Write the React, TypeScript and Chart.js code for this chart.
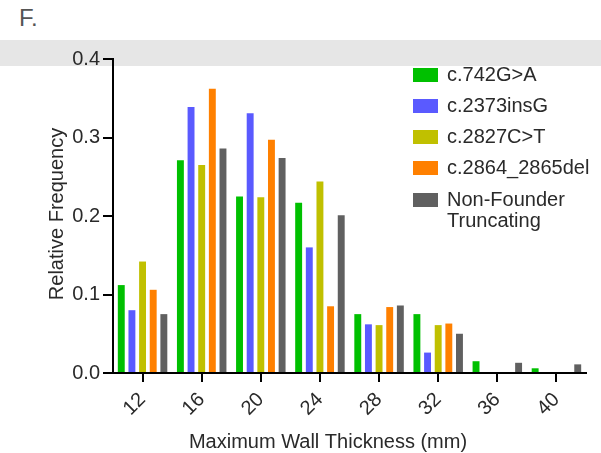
import React, { useEffect, useRef } from "react";
import { Chart, registerables } from "chart.js";

Chart.register(...registerables);

const categories = ["12", "16", "20", "24", "28", "32", "36", "40"];
const seriesLabels = ["c.742G>A", "c.2373insG", "c.2827C>T", "c.2864_2865del", "Non-Founder Truncating"];
const seriesColors = ["#00c000", "#5a5aff", "#c0c000", "#ff8000", "#606060"];
const v742 = [0.112, 0.271, 0.225, 0.217, 0.075, 0.075, 0.015, 0.006];
const vIns = [0.080, 0.339, 0.331, 0.160, 0.062, 0.026, 0, 0];
const v2827 = [0.142, 0.265, 0.224, 0.244, 0.061, 0.061, 0, 0];
const vDel = [0.106, 0.362, 0.297, 0.085, 0.084, 0.063, 0, 0];
const vNF = [0.075, 0.286, 0.274, 0.201, 0.086, 0.050, 0.013, 0.011];
const seriesValues = [v742, vIns, v2827, vDel, vNF];
const yTicks = [0, 0.1, 0.2, 0.3, 0.4];

const FONT = '"Liberation Sans", Arial, sans-serif';
const TEXT = "#2a2a2a";

const overlayPlugin = {
  id: "overlay",
  afterDraw(chart: any) {
    const ctx = chart.ctx;
    ctx.save();
    // legend
    ctx.font = `20px ${FONT}`;
    ctx.textBaseline = "middle";
    ctx.textAlign = "left";
    const rowY = [75, 106, 137, 168, 200];
    chart.data.datasets.forEach((ds: any, i: number) => {
      const y = rowY[i];
      ctx.fillStyle = ds.backgroundColor;
      ctx.fillRect(413, y - 7, 25, 14);
      ctx.fillStyle = TEXT;
      const label: string = ds.label;
      if (label === "Non-Founder Truncating") {
        ctx.fillText("Non-Founder", 447, y);
        ctx.fillText("Truncating", 447, y + 21);
      } else {
        ctx.fillText(label, 447, y);
      }
    });
    // axis titles
    ctx.font = `20px ${FONT}`;
    ctx.fillStyle = TEXT;
    ctx.textAlign = "center";
    ctx.textBaseline = "alphabetic";
    ctx.fillText("Maximum Wall Thickness (mm)", 328, 448);
    ctx.translate(63, 214);
    ctx.rotate(-Math.PI / 2);
    ctx.fillText("Relative Frequency", 0, 0);
    ctx.restore();
  },
};

export default function App() {
  const ref = useRef<HTMLCanvasElement | null>(null);
  useEffect(() => {
    if (!ref.current) return;
    const chart = new Chart(ref.current, {
      type: "bar",
      data: {
        labels: categories,
        datasets: seriesLabels.map((label, i) => ({
          label,
          data: seriesValues[i],
          backgroundColor: seriesColors[i],
          borderWidth: 0,
          categoryPercentage: 0.9,
          barPercentage: 0.65,
        })),
      },
      options: {
        responsive: false,
        animation: false,
        layout: { padding: { top: 59, right: 15, left: 0, bottom: 0 } },
        plugins: { legend: { display: false }, tooltip: { enabled: false } },
        scales: {
          x: {
            offset: true,
            grid: {
              offset: false,
              drawOnChartArea: false,
              drawTicks: true,
              tickLength: 9,
              color: "#000",
              lineWidth: 2,
            },
            border: { color: "#000", width: 2 },
            ticks: {
              color: TEXT,
              font: { family: FONT, size: 20 },
              minRotation: 45,
              maxRotation: 45,
              padding: 6,
            },
            afterFit(scale: any) {
              scale.height = 80;
            },
          },
          y: {
            min: 0,
            max: 0.4,
            afterBuildTicks(scale: any) {
              scale.ticks = yTicks.map((v) => ({ value: v }));
            },
            grid: {
              drawOnChartArea: false,
              drawTicks: true,
              tickLength: 10,
              color: "#000",
              lineWidth: 2,
            },
            border: { color: "#000", width: 2 },
            ticks: {
              color: TEXT,
              font: { family: FONT, size: 20 },
              padding: 3,
              callback: (v: any) => Number(v).toFixed(1),
            },
            afterFit(scale: any) {
              scale.width = 113;
            },
          },
        },
      },
      plugins: [overlayPlugin],
    });
    return () => chart.destroy();
  }, []);

  return (
    <div style={{ position: "absolute", left: 0, top: 0, width: 601, height: 453, background: "#fff" }}>
      <div style={{ position: "absolute", left: 0, top: 40, width: 601, height: 26, background: "#e6e6e6" }} />
      <div
        style={{
          position: "absolute",
          left: 19,
          top: 4,
          fontFamily: FONT,
          fontSize: 24,
          color: "#555",
        }}
      >
        F.
      </div>
      <canvas ref={ref} width={601} height={453} style={{ position: "absolute", left: 0, top: 0, display: "block" }} />
    </div>
  );
}
